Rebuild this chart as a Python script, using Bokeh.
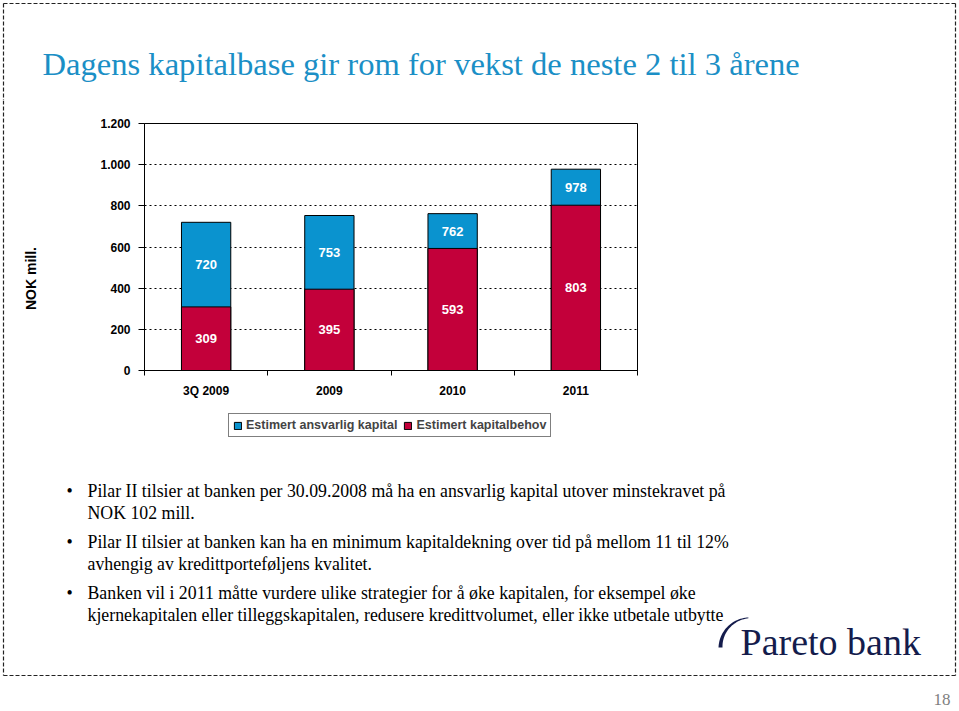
import numpy as np
from bokeh.plotting import figure
from bokeh.layouts import column, row
from bokeh.models import (Range1d, FixedTicker, Label, Legend, LegendItem,
                          ColumnDataSource)
from bokeh.core.properties import value
from bokeh.embed import file_html
from bokeh.resources import INLINE

# ---------------- data ----------------
categories = ["3Q 2009", "2009", "2010", "2011"]
ansvarlig_kapital = [720, 753, 762, 978]      # Estimert ansvarlig kapital (blue)
kapitalbehov = [309, 395, 593, 803]           # Estimert kapitalbehov (red)
y_ticks = [0, 200, 400, 600, 800, 1000, 1200]
y_tick_labels = ["0", "200", "400", "600", "800", "1.000", "1.200"]
series_names = ["Estimert ansvarlig kapital", "Estimert kapitalbehov"]

title_text = "Dagens kapitalbase gir rom for vekst de neste 2 til 3 årene"
bullets = [
    ["Pilar II tilsier at banken per 30.09.2008 må ha en ansvarlig kapital utover minstekravet på",
     "NOK 102 mill."],
    ["Pilar II tilsier at banken kan ha en minimum kapitaldekning over tid på mellom 11 til 12%",
     "avhengig av kredittporteføljens kvalitet."],
    ["Banken vil i 2011 måtte vurdere ulike strategier for å øke kapitalen, for eksempel øke",
     "kjernekapitalen eller tilleggskapitalen, redusere kredittvolumet, eller ikke utbetale utbytte"],
]

BLUE = "#0a93cf"
RED = "#c3003a"
NAVY = "#141c4c"
SANS = "Liberation Sans"
SERIF = "Liberation Serif"
BORDER = dict(line_color="#222222", line_width=1.2, line_dash="4 2")

W, H = 959, 711
TOP_H = 100                # top canvas: page y 0..100
MID_B = 410                # middle row: page y 100..410
LW, RX = 60, 951           # middle row: left canvas 0..60, chart 60..951, right 951..959
FL, FR, FT, FB = 144, 637, 123, 370   # chart frame in page pixels
BX0, BX1, BY0, BY1 = 3, 955, 3, 675   # slide border


def canvas(x0, x1, y0, y1):
    f = figure(width=x1 - x0, height=y1 - y0, output_backend="svg", toolbar_location=None,
               x_range=Range1d(x0, x1), y_range=Range1d(y1, y0),
               x_axis_type=None, y_axis_type=None, frame_align=False,
               min_border=0, min_border_left=0, min_border_right=0,
               min_border_top=0, min_border_bottom=0)
    f.outline_line_color = None
    f.grid.visible = False
    f.background_fill_color = "white"
    f.border_fill_color = "white"
    return f


# --- top: title ---
top = canvas(0, W, 0, TOP_H)
top.line([BX0, BX1], [BY0, BY0], **BORDER)
top.line([BX0, BX0], [BY0, TOP_H], **BORDER)
top.line([BX1, BX1], [BY0, TOP_H], **BORDER)
top.add_layout(Label(x=42, y=63, text=title_text, text_font=SERIF, text_font_size="32.6px",
                     text_color="#1b8fc6", text_baseline="alphabetic"))

# --- middle left: border + y axis title ---
leftc = canvas(0, LW, TOP_H, MID_B)
leftc.line([BX0, BX0], [TOP_H, MID_B], **BORDER)
leftc.add_layout(Label(x=30, y=278, text="NOK mill.", text_font=SANS, text_font_size="14px",
                       text_font_style="bold", text_color="black", angle=np.pi / 2,
                       text_align="center", text_baseline="middle"))
rightc = canvas(RX, W, TOP_H, MID_B)
rightc.line([BX1, BX1], [TOP_H, MID_B], **BORDER)

# --- chart ---
p = figure(width=RX - LW, height=MID_B - TOP_H, output_backend="svg", toolbar_location=None,
           x_range=Range1d(0, len(categories)), y_range=Range1d(0, 1200), frame_align=False,
           min_border_left=FL - LW, min_border_right=RX - FR,
           min_border_top=FT - TOP_H, min_border_bottom=MID_B - FB)
p.background_fill_color = "white"
p.border_fill_color = "white"
p.outline_line_color = "black"
p.outline_line_width = 1

xs = [i + 0.5 for i in range(len(categories))]
src = ColumnDataSource(dict(
    x=xs, total=ansvarlig_kapital, need=kapitalbehov,
    total_mid=[(a + b) / 2 for a, b in zip(ansvarlig_kapital, kapitalbehov)],
    need_mid=[b / 2 for b in kapitalbehov],
    total_txt=[str(v) for v in ansvarlig_kapital],
    need_txt=[str(v) for v in kapitalbehov],
))

p.vbar(x="x", top="total", bottom=0, width=0.4, source=src,
       fill_color=BLUE, line_color="black", line_width=1)
p.vbar(x="x", top="need", bottom=0, width=0.4, source=src,
       fill_color=RED, line_color="black", line_width=1)

for ycol, tcol in (("total_mid", "total_txt"), ("need_mid", "need_txt")):
    p.text(x="x", y=ycol, text=tcol, source=src, text_color="white",
           text_font=value(SANS), text_font_style="bold", text_font_size="13px",
           text_align="center", text_baseline="middle")

xa = p.xaxis[0]
xa.ticker = FixedTicker(ticks=xs, minor_ticks=list(range(len(categories) + 1)))
xa.major_label_overrides = {x: c for x, c in zip(xs, categories)}
xa.major_tick_out = 0
xa.major_tick_in = 0
xa.minor_tick_out = 5
xa.minor_tick_in = 0
xa.major_label_standoff = 8
ya = p.yaxis[0]
ya.ticker = FixedTicker(ticks=y_ticks)
ya.major_label_overrides = {t: l for t, l in zip(y_ticks, y_tick_labels)}
ya.major_tick_out = 6
ya.major_tick_in = 0
ya.minor_tick_out = 0
ya.minor_tick_in = 0
ya.major_label_standoff = 8
for ax in (xa, ya):
    ax.axis_line_color = "black"
    ax.major_tick_line_color = "black"
    ax.minor_tick_line_color = "black"
    ax.major_label_text_font = SANS
    ax.major_label_text_font_style = "bold"
    ax.major_label_text_font_size = "12px"
    ax.major_label_text_color = "black"

p.xgrid.grid_line_color = None
p.ygrid.grid_line_color = "black"
p.ygrid.grid_line_dash = "2 3"
p.ygrid.grid_line_width = 1

# --- bottom: legend, bullets, logo, page number ---
bot = canvas(0, W, MID_B, H)
bot.line([BX0, BX1], [BY1, BY1], **BORDER)
bot.line([BX0, BX0], [MID_B, BY1], **BORDER)
bot.line([BX1, BX1], [MID_B, BY1], **BORDER)

# legend key renderers: one zero-size bar each, placed off the canvas, only to give the keys a glyph
key_src = ColumnDataSource(dict(x=[-50], top=[0], bottom=[0]))
key_blue = bot.vbar(x="x", top="top", bottom="bottom", width=0, source=key_src,
                    fill_color=BLUE, line_color="black")
key_red = bot.vbar(x="x", top="top", bottom="bottom", width=0, source=key_src,
                   fill_color=RED, line_color="black")
legend = Legend(items=[LegendItem(label=series_names[0], renderers=[key_blue]),
                       LegendItem(label=series_names[1], renderers=[key_red])],
                orientation="horizontal", location=(228, H - 437))
legend.border_line_color = "black"
legend.border_line_width = 1
legend.background_fill_color = "white"
legend.label_text_font = SANS
legend.label_text_font_style = "bold"
legend.label_text_font_size = "12.5px"
legend.glyph_width = 9
legend.glyph_height = 9
legend.label_standoff = 4
legend.spacing = 6
legend.padding = 4
legend.margin = 0
legend.label_height = 12
bot.add_layout(legend, "center")

line_y = [[490, 512], [541, 563], [592, 614]]
for lines, ys in zip(bullets, line_y):
    bot.add_layout(Label(x=66, y=ys[0], text="•", text_font=SERIF, text_font_size="17.8px",
                         text_color="black", text_baseline="middle"))
    for t, yy in zip(lines, ys):
        bot.add_layout(Label(x=87, y=yy, text=t, text_font=SERIF, text_font_size="17.8px",
                             text_color="black", text_baseline="middle"))

bot.add_layout(Label(x=740, y=641, text="Pareto bank", text_font=SERIF,
                     text_font_size="38px", text_color=NAVY, text_baseline="alphabetic"))
th = np.linspace(np.radians(92), np.radians(178), 30)
cx, cy = 749, 648
r_out = np.full_like(th, 31.0)
r_in = np.linspace(30.2, 27.0, th.size)
sx = np.concatenate([cx + r_out * np.cos(th), (cx + r_in * np.cos(th))[::-1]])
sy = np.concatenate([cy - r_out * np.sin(th), (cy - r_in * np.sin(th))[::-1]])
bot.patch(list(sx), list(sy), fill_color=NAVY, line_color=None)

bot.add_layout(Label(x=950, y=699, text="18", text_font=SERIF, text_font_size="17px",
                     text_color="#808080", text_align="right", text_baseline="middle"))

page = column(top, row(leftc, p, rightc, spacing=0), bot, spacing=0)
open("out.html", "w").write(file_html(page, INLINE))
